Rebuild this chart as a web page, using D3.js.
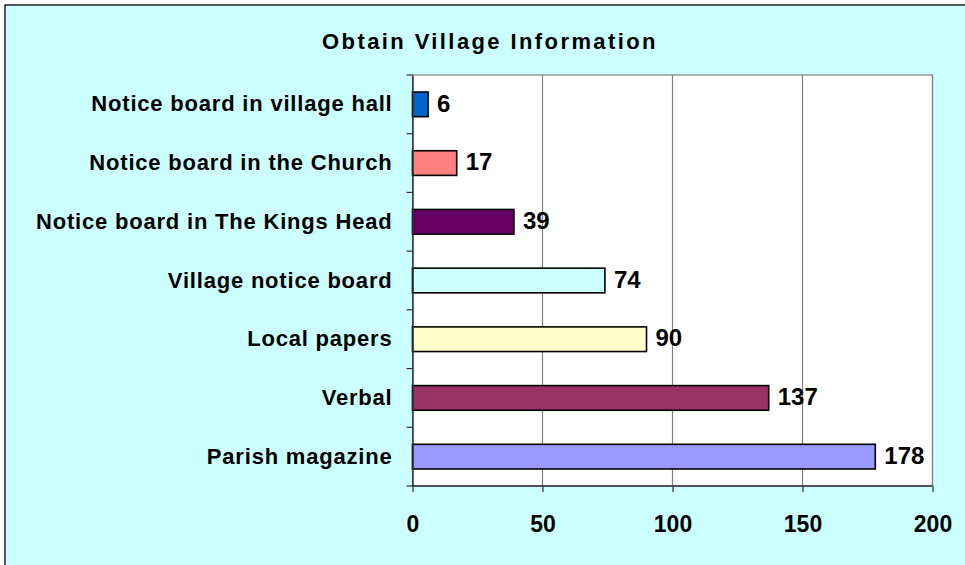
<!DOCTYPE html>
<html>
<head>
<meta charset="utf-8">
<script src="https://cdn.jsdelivr.net/npm/d3@7"></script>
<style>
  html, body { margin: 0; padding: 0; background: #fff; }
  svg { display: block; }
  text { font-family: "Liberation Sans", Arial, sans-serif; font-weight: bold; fill: #000; }
</style>
</head>
<body>
<svg id="chart" width="965" height="565"></svg>
<script>
const categories = [
  "Notice board in village hall",
  "Notice board in the Church",
  "Notice board in The Kings Head",
  "Village notice board",
  "Local papers",
  "Verbal",
  "Parish magazine"
];
const values = [6, 17, 39, 74, 90, 137, 178];
const colors = ["#0066CC", "#FF8080", "#660066", "#CCFFFF", "#FFFFCC", "#993366", "#9999FF"];
const xTicks = [0, 50, 100, 150, 200];
const title = "Obtain Village Information";

const svg = d3.select("#chart");
const W = 965, H = 565;
const FONT = "Liberation Sans, Arial, sans-serif";

svg.append("rect").attr("x", 5).attr("y", 5).attr("width", W + 10).attr("height", H + 10)
  .attr("fill", "#CCFFFF").attr("stroke", "#222").attr("stroke-width", 1.5);

const m = { left: 412.5, right: 932.5, top: 75, bottom: 486 };

const x = d3.scaleLinear().domain([0, 200]).range([m.left, m.right]);
const y = d3.scaleBand().domain(categories).range([m.top, m.bottom]).paddingInner(0.58).paddingOuter(0.29);
const yBand = d3.scaleBand().domain(categories).range([m.top, m.bottom]);

svg.append("rect").attr("x", m.left).attr("y", m.top)
  .attr("width", m.right - m.left).attr("height", m.bottom - m.top)
  .attr("fill", "#fff").attr("stroke", "#808080").attr("stroke-width", 1.2);

// gridlines
svg.append("g").selectAll("line").data(xTicks.slice(1)).join("line")
  .attr("x1", d => x(d)).attr("x2", d => x(d))
  .attr("y1", m.top).attr("y2", m.bottom)
  .attr("stroke", "#808080").attr("stroke-width", 1.2);

// bars
svg.append("g").selectAll("rect").data(values).join("rect")
  .attr("x", x(0))
  .attr("y", (d, i) => y(categories[i]))
  .attr("width", d => x(d) - x(0))
  .attr("height", y.bandwidth())
  .attr("fill", (d, i) => colors[i])
  .attr("stroke", "#000").attr("stroke-width", 1.6);

// value labels
svg.append("g").selectAll("text").data(values).join("text")
  .attr("x", d => x(d) + 9)
  .attr("y", (d, i) => y(categories[i]) + y.bandwidth() / 2)
  .attr("dy", "0.3em")
  .attr("font-size", 24)
  .text(d => d);

// y axis
const yAxis = d3.axisLeft(yBand).tickSize(0).tickPadding(20);
const gy = svg.append("g").attr("transform", `translate(${m.left},0)`).call(yAxis);
gy.select(".domain").attr("stroke", "#333").attr("stroke-width", 1.5);
gy.selectAll("text").attr("font-size", 22).attr("letter-spacing", 0.8)
  .style("font-family", FONT).style("font-weight", "bold").attr("fill", "#000");
// y ticks at band boundaries
const bounds = categories.map(c => yBand(c)).concat([m.bottom]);
svg.append("g").selectAll("line").data(bounds).join("line")
  .attr("x1", m.left - 6).attr("x2", m.left)
  .attr("y1", d => d).attr("y2", d => d)
  .attr("stroke", "#333").attr("stroke-width", 1.2);

// x axis
const xAxis = d3.axisBottom(x).tickValues(xTicks).tickSize(6).tickPadding(23.5);
const gx = svg.append("g").attr("transform", `translate(0,${m.bottom})`).call(xAxis);
gx.select(".domain").attr("stroke", "#333").attr("stroke-width", 1.5).attr("d", `M${m.left},0H${m.right}`);
gx.selectAll(".tick line").attr("stroke", "#333").attr("stroke-width", 1.2);
gx.selectAll("text").attr("font-size", 23)
  .style("font-family", FONT).style("font-weight", "bold").attr("fill", "#000");

svg.append("text").attr("x", 490).attr("y", 48.5).attr("text-anchor", "middle")
  .attr("font-size", 22).attr("letter-spacing", 2.4).text(title);
</script>
</body>
</html>
